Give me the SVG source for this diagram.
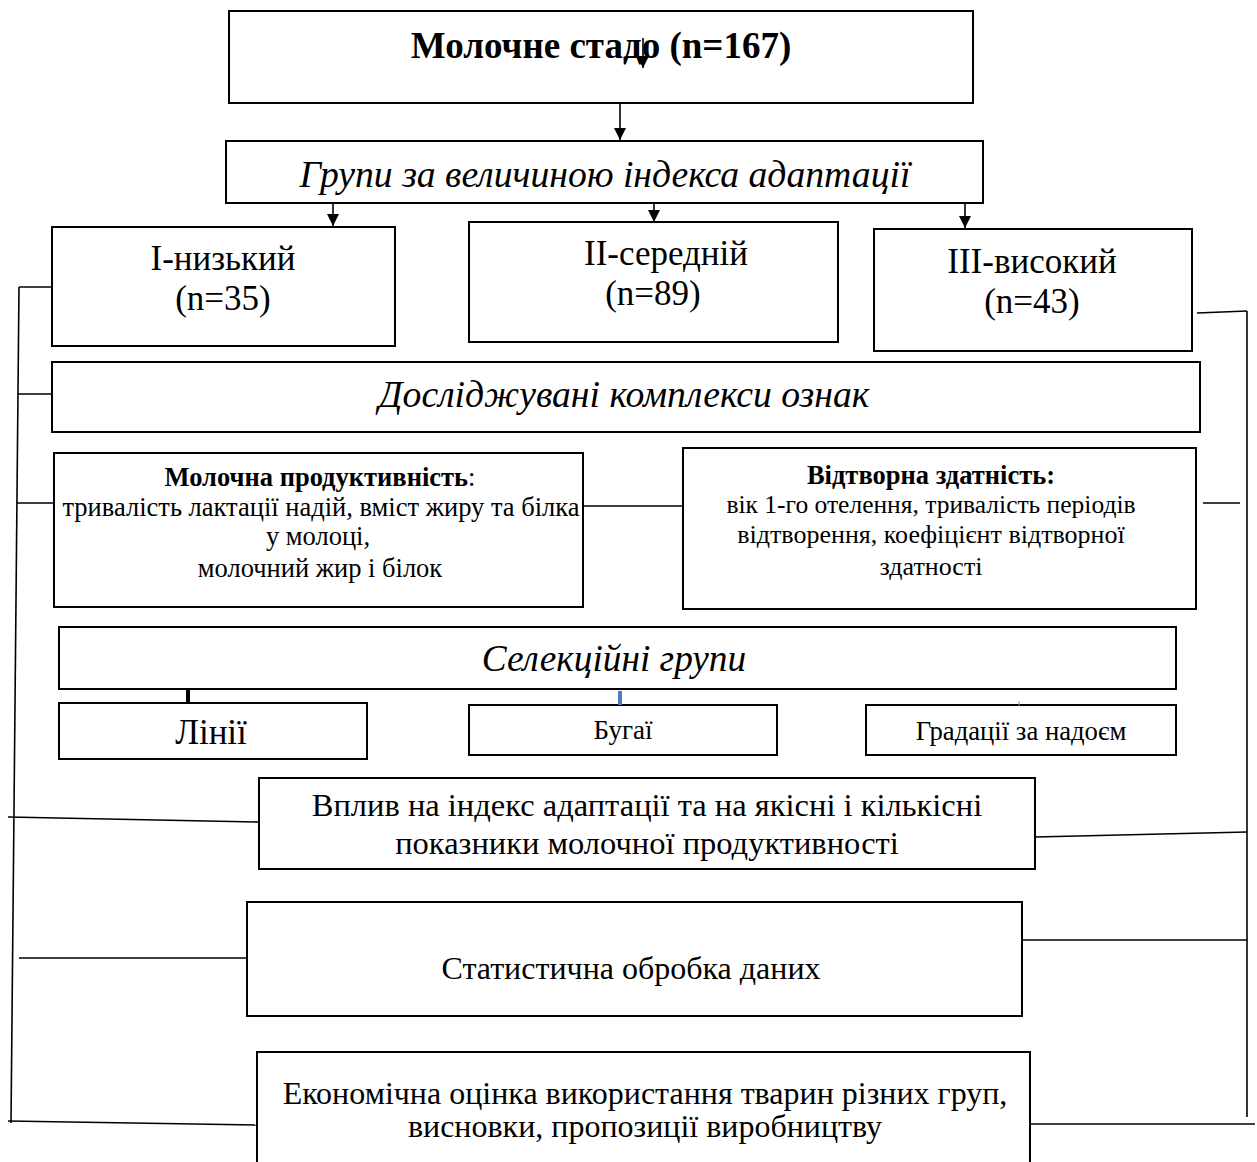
<svg xmlns="http://www.w3.org/2000/svg" width="1257" height="1162" viewBox="0 0 1257 1162">
<style>
.box{fill:#fff;stroke:#000;stroke-width:2}
.t{font-family:"Liberation Serif","Times New Roman",serif;fill:#000;text-anchor:middle}
.ln{stroke:#000;stroke-width:1.6;fill:none}
</style>
<defs>
<marker id="ah2" viewBox="0 0 10 10" refX="10" refY="5" markerWidth="14" markerHeight="12" markerUnits="userSpaceOnUse" orient="auto">
<path d="M0,0 L10,5 L0,10 Z" fill="#000"/>
</marker>
</defs>
<g id="n-herd">
<rect class="box" x="229" y="11" width="744" height="92"/>
<text class="t" x="601" y="58" font-size="37" font-weight="bold">Молочне стадо (n=167)</text>
</g>
<g id="n-groups">
<rect class="box" x="226" y="141" width="757" height="62"/>
<text class="t" x="605" y="187" font-size="37.7" font-style="italic">Групи за величиною індекса адаптації</text>
</g>
<g id="n-low">
<rect class="box" x="52" y="227" width="343" height="119"/>
<text class="t" x="223" y="270" font-size="35">І-низький</text>
<text class="t" x="223" y="310" font-size="35">(n=35)</text>
</g>
<g id="n-mid">
<rect class="box" x="469" y="222" width="369" height="120"/>
<text class="t" x="666" y="265" font-size="35">ІІ-середній</text>
<text class="t" x="653" y="305" font-size="35">(n=89)</text>
</g>
<g id="n-high">
<rect class="box" x="874" y="229" width="318" height="122"/>
<text class="t" x="1032" y="273" font-size="35">ІІІ-високий</text>
<text class="t" x="1032" y="313" font-size="35">(n=43)</text>
</g>
<g id="n-traits">
<rect class="box" x="52" y="362" width="1148" height="70"/>
<text class="t" x="624" y="407" font-size="37.7" font-style="italic">Досліджувані комплекси ознак</text>
</g>
<g id="n-milk">
<rect class="box" x="54" y="453" width="529" height="154"/>
<text class="t" x="320" y="486" font-size="26.5"><tspan font-weight="bold">Молочна продуктивність</tspan>:</text>
<text class="t" x="321" y="516" font-size="26.5">тривалість лактації надій, вміст жиру та білка</text>
<text class="t" x="318" y="545" font-size="26.5">у молоці,</text>
<text class="t" x="320" y="577" font-size="26.5">молочний жир і білок</text>
</g>
<g id="n-repro">
<rect class="box" x="683" y="448" width="513" height="161"/>
<text class="t" x="931" y="484" font-size="26.5" font-weight="bold">Відтворна здатність:</text>
<text class="t" x="931" y="513" font-size="25.5">вік 1-го отелення, тривалість періодів</text>
<text class="t" x="931" y="543" font-size="26">відтворення, коефіцієнт відтворної</text>
<text class="t" x="931" y="575" font-size="26">здатності</text>
</g>
<g id="n-sel">
<rect class="box" x="59" y="627" width="1117" height="62"/>
<text class="t" x="614" y="671" font-size="37.3" font-style="italic">Селекційні групи</text>
</g>
<g id="n-lines">
<rect class="box" x="59" y="703" width="308" height="56"/>
<text class="t" x="211" y="744" font-size="35">Лінії</text>
</g>
<g id="n-bulls">
<rect class="box" x="469" y="705" width="308" height="50"/>
<text class="t" x="623" y="739" font-size="27">Бугаї</text>
</g>
<g id="n-grad">
<rect class="box" x="866" y="705" width="310" height="50"/>
<text class="t" x="1021" y="740" font-size="26.7">Градації за надоєм</text>
</g>
<g id="n-infl">
<rect class="box" x="259" y="778" width="776" height="91"/>
<text class="t" x="647" y="816" font-size="32.5">Вплив на індекс адаптації та на якісні і кількісні</text>
<text class="t" x="647" y="854" font-size="32.5">показники молочної продуктивності</text>
</g>
<g id="n-stat">
<rect class="box" x="247" y="902" width="775" height="114"/>
<text class="t" x="631" y="979" font-size="32">Статистична обробка даних</text>
</g>
<g id="n-econ">
<rect class="box" x="257" y="1052" width="773" height="120"/>
<text class="t" x="645" y="1104" font-size="32">Економічна оцінка використання тварин різних груп,</text>
<text class="t" x="645" y="1137" font-size="32">висновки, пропозиції виробництву</text>
</g>
<g id="connectors">
<line class="ln" x1="643" y1="38" x2="643" y2="68" marker-end="url(#ah2)"/>
<line class="ln" x1="620" y1="104" x2="620" y2="140" marker-end="url(#ah2)"/>
<line class="ln" x1="333" y1="204" x2="333" y2="226" marker-end="url(#ah2)"/>
<line class="ln" x1="654" y1="204" x2="654" y2="222" marker-end="url(#ah2)"/>
<line class="ln" x1="965" y1="204" x2="965" y2="228" marker-end="url(#ah2)"/>
<line class="ln" x1="583" y1="506" x2="683" y2="506"/>
<line x1="188" y1="690" x2="188" y2="703" stroke="#000" stroke-width="4"/>
<line x1="620" y1="691" x2="620" y2="705" stroke="#4a7cc0" stroke-width="4"/>
<line x1="1019" y1="701" x2="1019" y2="706" stroke="#6a9ad0" stroke-width="1"/>
<line class="ln" x1="19" y1="287" x2="11" y2="1123"/>
<line class="ln" x1="19" y1="287" x2="52" y2="287"/>
<line class="ln" x1="18" y1="394" x2="52" y2="394"/>
<line class="ln" x1="17" y1="503" x2="54" y2="503"/>
<line class="ln" x1="8" y1="817" x2="259" y2="822"/>
<line class="ln" x1="19" y1="958" x2="247" y2="958"/>
<line class="ln" x1="8" y1="1121" x2="257" y2="1125"/>
<line class="ln" x1="1247" y1="311" x2="1247" y2="1117"/>
<line class="ln" x1="1197" y1="313" x2="1247" y2="311"/>
<line class="ln" x1="1203" y1="503" x2="1240" y2="503"/>
<line class="ln" x1="1035" y1="837" x2="1247" y2="832"/>
<line class="ln" x1="1022" y1="940" x2="1247" y2="940"/>
<line class="ln" x1="1030" y1="1124" x2="1255" y2="1124"/>
</g>
</svg>
